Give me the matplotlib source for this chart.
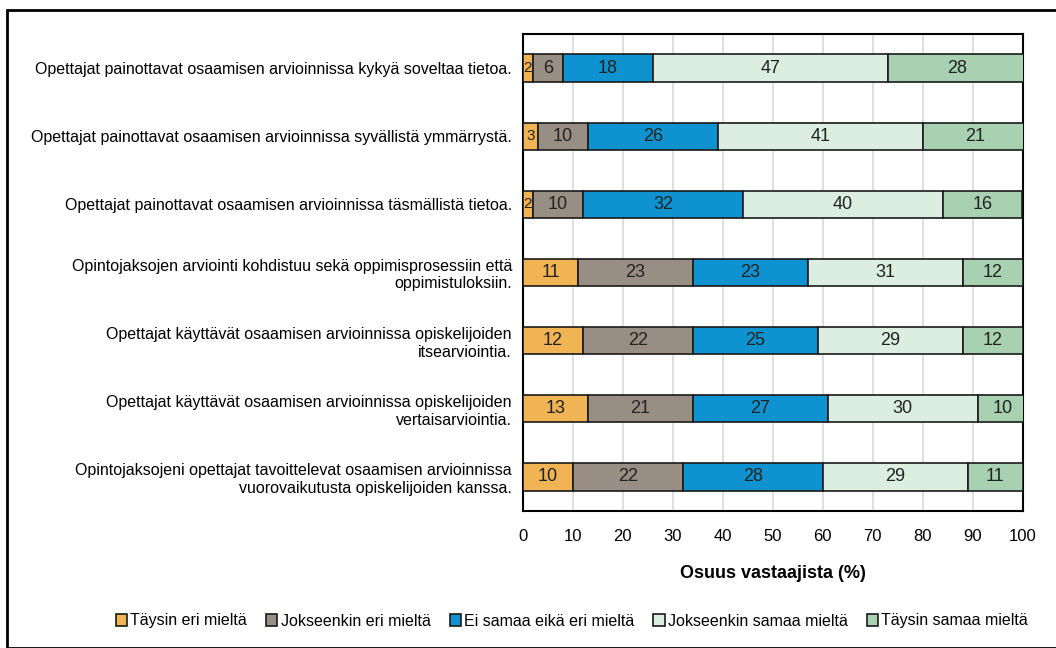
import matplotlib
matplotlib.use("Agg")
import matplotlib.pyplot as plt
from matplotlib import font_manager
from matplotlib.patches import Rectangle
import numpy as np

names = {f.name for f in font_manager.fontManager.ttflist}
fam = ["Liberation Sans Narrow", "Liberation Sans", "DejaVu Sans"]
plt.rcParams["font.family"] = [f for f in fam if f in names] or ["DejaVu Sans"]

statements = [
    "Opettajat painottavat osaamisen arvioinnissa kykyä soveltaa tietoa.",
    "Opettajat painottavat osaamisen arvioinnissa syvällistä ymmärrystä.",
    "Opettajat painottavat osaamisen arvioinnissa täsmällistä tietoa.",
    "Opintojaksojen arviointi kohdistuu sekä oppimisprosessiin että\noppimistuloksiin.",
    "Opettajat käyttävät osaamisen arvioinnissa opiskelijoiden\nitsearviointia.",
    "Opettajat käyttävät osaamisen arvioinnissa opiskelijoiden\nvertaisarviointia.",
    "Opintojaksojeni opettajat tavoittelevat osaamisen arvioinnissa\nvuorovaikutusta opiskelijoiden kanssa.",
]
categories = ["Täysin eri mieltä", "Jokseenkin eri mieltä", "Ei samaa eikä eri mieltä",
              "Jokseenkin samaa mieltä", "Täysin samaa mieltä"]
taysin_eri = [2, 3, 2, 11, 12, 13, 10]
jokseenkin_eri = [6, 10, 10, 23, 22, 21, 22]
ei_samaa = [18, 26, 32, 23, 25, 27, 28]
jokseenkin_samaa = [47, 41, 40, 31, 29, 30, 29]
taysin_samaa = [28, 21, 16, 12, 12, 10, 11]
colors = ["#F0B455", "#998E84", "#0E93D0", "#DCEEE2", "#A7D1B1"]

series = [taysin_eri, jokseenkin_eri, ei_samaa, jokseenkin_samaa, taysin_samaa]

fig = plt.figure(figsize=(10.56, 6.48), dpi=100)
ax = fig.add_axes([523 / 1056, 1 - 511 / 648, 499.5 / 1056, 477 / 648])

y = np.arange(len(statements))
left = np.zeros(len(statements))
for vals, col, lab in zip(series, colors, categories):
    bars = ax.barh(y, vals, left=left, height=0.4, color=col, edgecolor="#1a1a1a",
                   linewidth=1.2, label=lab, zorder=3)
    for b, v in zip(bars, vals):
        fs = 13 if v >= 5 else 11
        ax.text(b.get_x() + b.get_width() / 2, b.get_y() + b.get_height() / 2, str(v),
                ha="center", va="center", fontsize=fs, color="#222222", zorder=4)
    left += np.array(vals)

ax.set_xlim(0, 100)
ax.set_ylim(len(statements) - 0.5, -0.5)
ax.set_xticks(range(0, 101, 10))
ax.set_yticks(y)
ax.set_yticklabels(statements, fontsize=11.5, multialignment="right")
ax.tick_params(axis="y", length=0, pad=8, labelsize=11.5)
ax.tick_params(axis="x", length=0, pad=13, labelsize=12)
ax.xaxis.grid(True, color="#d9d9d9", linewidth=1.2, zorder=0)
for s in ax.spines.values():
    s.set_linewidth(1.5)
    s.set_color("black")
ax.set_xlabel("Osuus vastaajista (%)", fontsize=13, fontweight="bold", labelpad=15)

fig.legend(loc="center", bbox_to_anchor=(572 / 1056, 1 - 621 / 648), ncol=5,
           frameon=False, fontsize=11.5, handlelength=0.7, handleheight=0.7,
           handletextpad=0.2, columnspacing=1.2)

fig.patches.append(Rectangle((7 / 1056, 0), 1.2, 1 - 10 / 648, transform=fig.transFigure,
                             fill=False, edgecolor="black", linewidth=2))

fig.savefig("out.png", dpi=100)
